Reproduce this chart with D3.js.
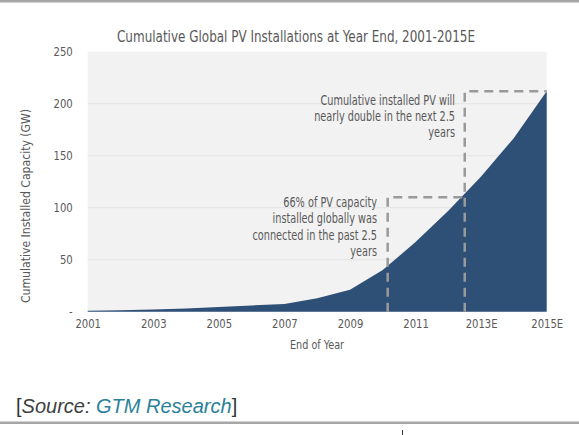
<!doctype html>
<html>
  <head>
    <script src="https://cdn.jsdelivr.net/npm/d3@7/dist/d3.min.js"></script>
    <style>
      body, html {
        margin: 0;
        background: #fff;
      }
      svg {
        display: block;
      }
      text {
        font-family: "Liberation Sans Narrow", "DejaVu Sans Condensed", "Roboto Condensed", sans-serif;
        fill: #595959;
      }
      .axis text {
        font-size: 13px;
      }
      .note text {
        font-size: 13.5px;
      }
      .dash {
        fill: none;
        stroke: #9a9a9a;
        stroke-width: 2.5px;
        stroke-dasharray: 9,6;
      }
      .grid line {
        stroke: #e3e3e3;
        stroke-width: 1px;
      }
      .source {
        font-family: "Liberation Sans", Arial, sans-serif;
        font-size: 20px;
      }
    </style>
  </head>
  <body>
    <svg width="579" height="435"></svg>
    <script>

      // cumulative installed PV (GW), end of year
      var years = [2001, 2002, 2003, 2004, 2005, 2006, 2007, 2008,
        2009, 2010, 2011, 2012, 2013, 2014, 2015];
      var capacity = [1, 1.5, 2, 3, 4.5, 6, 7.5, 13, 21, 40, 67, 97, 130, 167, 212];

      var xTicks = [2001, 2003, 2005, 2007, 2009, 2011, 2013, 2015];
      var xTickLabels = ["2001", "2003", "2005", "2007", "2009", "2011", "2013E", "2015E"];
      var yTicks = [0, 50, 100, 150, 200, 250];

      // dashed brackets: [start year, level GW, end year]
      var pastBracket = [2010.15, 110, 2012.45];
      var nextBracket = [2012.5, 212, 2015];

      var pastNote = ["66% of PV capacity", "installed globally was",
        "connected in the past 2.5", "years"];
      var nextNote = ["Cumulative installed PV will", "nearly double in the next 2.5", "years"];

      var svg = d3.select("svg");

      var x = d3.scaleLinear().domain([2001, 2015]).range([87.7, 546.7]);
      var y = d3.scaleLinear().domain([0, 250]).range([311.7, 51.7]);

      // squeeze the condensed font a bit narrower, like the original's
      function squeeze(sel, k) {
        sel.each(function() {
          var w = this.getComputedTextLength();
          d3.select(this).attr("textLength", w * k).attr("lengthAdjust", "spacingAndGlyphs");
        });
      }

      // top and bottom rules of the page
      svg.append("rect").attr("x", 0).attr("y", 0).attr("width", 579).attr("height", 2.5)
        .attr("fill", "#a6a6a6");
      svg.append("rect").attr("x", 0).attr("y", 421.5).attr("width", 579).attr("height", 2.5)
        .attr("fill", "#a6a6a6");
      svg.append("line").attr("x1", 402.5).attr("x2", 402.5).attr("y1", 430).attr("y2", 435)
        .attr("stroke", "#333").attr("stroke-width", 1);

      // plot background
      svg.append("rect")
        .attr("x", x(2001)).attr("y", y(250))
        .attr("width", x(2015) - x(2001)).attr("height", y(0) - y(250))
        .attr("fill", "#f2f2f2");

      svg.append("g").attr("class", "grid")
        .selectAll("line").data(yTicks.slice(1, 5)).join("line")
        .attr("x1", x(2001)).attr("x2", x(2015))
        .attr("y1", d => y(d)).attr("y2", d => y(d));

      var area = d3.area()
        .x((d, i) => x(years[i]))
        .y0(y(0))
        .y1(d => y(d));

      svg.append("path")
        .datum(capacity)
        .attr("fill", "#2e4f76")
        .attr("d", area);

      // dashed brackets
      [pastBracket, nextBracket].forEach(b => {
        svg.append("path")
          .attr("class", "dash")
          .attr("d", d3.line()([[x(b[0]), y(0)], [x(b[0]), y(b[1])], [x(b[2]), y(b[1])]]));
      });

      // axes
      var xAxis = svg.append("g").attr("class", "axis")
        .attr("transform", "translate(0," + y(0) + ")")
        .call(d3.axisBottom(x).tickValues(xTicks)
          .tickFormat((d, i) => xTickLabels[i]).tickSize(0).tickPadding(7));
      xAxis.select(".domain").remove();

      var yAxis = svg.append("g").attr("class", "axis")
        .attr("transform", "translate(" + (x(2001) - 15) + ",0)")
        .call(d3.axisLeft(y).tickValues(yTicks)
          .tickFormat(d => d === 0 ? "-" : d).tickSize(0).tickPadding(0));
      yAxis.select(".domain").remove();
      svg.selectAll(".axis text").attr("fill", "#595959").style("font-family", null);
      squeeze(svg.selectAll(".axis text"), 0.86);

      // titles
      svg.append("text")
        .attr("x", 296).attr("y", 42)
        .attr("text-anchor", "middle")
        .style("font-size", "15px")
        .attr("textLength", 358).attr("lengthAdjust", "spacingAndGlyphs")
        .text("Cumulative Global PV Installations at Year End, 2001-2015E");

      svg.append("text")
        .attr("transform", "translate(30,206) rotate(-90)")
        .attr("text-anchor", "middle")
        .style("font-size", "12.5px")
        .attr("textLength", 194).attr("lengthAdjust", "spacingAndGlyphs")
        .text("Cumulative Installed Capacity (GW)");

      svg.append("text")
        .attr("x", 317).attr("y", 349)
        .attr("text-anchor", "middle")
        .style("font-size", "13px")
        .attr("textLength", 54).attr("lengthAdjust", "spacingAndGlyphs")
        .text("End of Year");

      // notes
      function note(lines, xr, y0) {
        var t = svg.append("g").attr("class", "note")
          .selectAll("text").data(lines).join("text")
          .attr("x", xr).attr("y", (d, i) => y0 + i * 16.3)
          .attr("text-anchor", "end")
          .text(d => d);
        squeeze(t, 0.8);
      }
      note(nextNote, 455, 104.5);
      note(pastNote, 377, 207);

      // source line
      var src = svg.append("text").attr("class", "source")
        .attr("x", 16).attr("y", 413);
      src.append("tspan").style("fill", "#333").text("[");
      src.append("tspan").style("fill", "#404040").style("font-style", "italic").text("Source: ");
      src.append("tspan").style("fill", "#2a8199").style("font-style", "italic").text("GTM Research");
      src.append("tspan").style("fill", "#333").text("]");

    </script>
  </body>
</html>
